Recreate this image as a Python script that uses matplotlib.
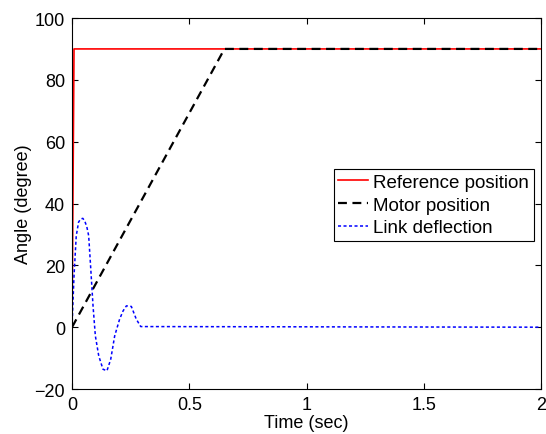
import matplotlib
matplotlib.use('Agg')
import matplotlib.pyplot as plt

plt.rcParams['font.family'] = ['Liberation Sans', 'DejaVu Sans']

# reference position (step to 90 deg)
ref_t = [0.0, 0.0085, 2.0]
ref_y = [0.0, 90.0, 90.0]

# motor position (ramp then hold)
motor_t = [0.0, 0.65, 2.0]
motor_y = [0.0, 90.0, 90.0]

# link deflection
link_t = [0.0, 0.004, 0.0085, 0.018, 0.028, 0.037, 0.046, 0.054, 0.063, 0.071, 0.080,
          0.0896, 0.0995, 0.114, 0.132, 0.149, 0.165, 0.182, 0.203, 0.218, 0.232,
          0.253, 0.274, 0.293, 2.0]
link_y = [0.0, 8.0, 16.6, 29.5, 34.0, 35.0, 35.2, 34.4, 32.5, 29.6, 18.8,
          6.9, -2.8, -9.3, -13.6, -14.1, -10.4, -2.8, 2.6, 5.3, 6.9,
          6.7, 2.6, 0.2, 0.0]

fig = plt.figure(figsize=(5.46, 4.35), dpi=100)
ax = fig.add_axes([0.1319, 0.1034, 0.8590, 0.8529])

ax.plot(ref_t, ref_y, color='red', lw=1.2, label='Reference position')
ax.plot(motor_t, motor_y, color='black', lw=1.6, dashes=(4, 2.5), label='Motor position')
ax.plot(link_t, link_y, color='blue', lw=1.1, dashes=(2, 1.6), label='Link deflection')

ax.set_xlim(0, 2)
ax.set_ylim(-20, 100)
ax.set_xticks([0, 0.5, 1, 1.5, 2])
ax.set_xticklabels(['0', '0.5', '1', '1.5', '2'])
ax.set_yticks([-20, 0, 20, 40, 60, 80, 100])
ax.set_yticklabels(['\u221220', '0', '20', '40', '60', '80', '100'])
ax.tick_params(direction='in', top=True, right=True, length=4, labelsize=13, pad=5)

ax.set_xlabel('Time (sec)', fontsize=13, labelpad=1)
ax.set_ylabel('Angle (degree)', fontsize=13, labelpad=2)

leg = ax.legend(loc='upper right', bbox_to_anchor=(0.985, 0.593), fontsize=13.5,
                frameon=True, fancybox=False, edgecolor='black', framealpha=1,
                borderpad=0.25, labelspacing=0.3, handlelength=1.6, handletextpad=0.27,
                borderaxespad=0)
leg.get_frame().set_linewidth(0.8)

plt.savefig('out.png')
